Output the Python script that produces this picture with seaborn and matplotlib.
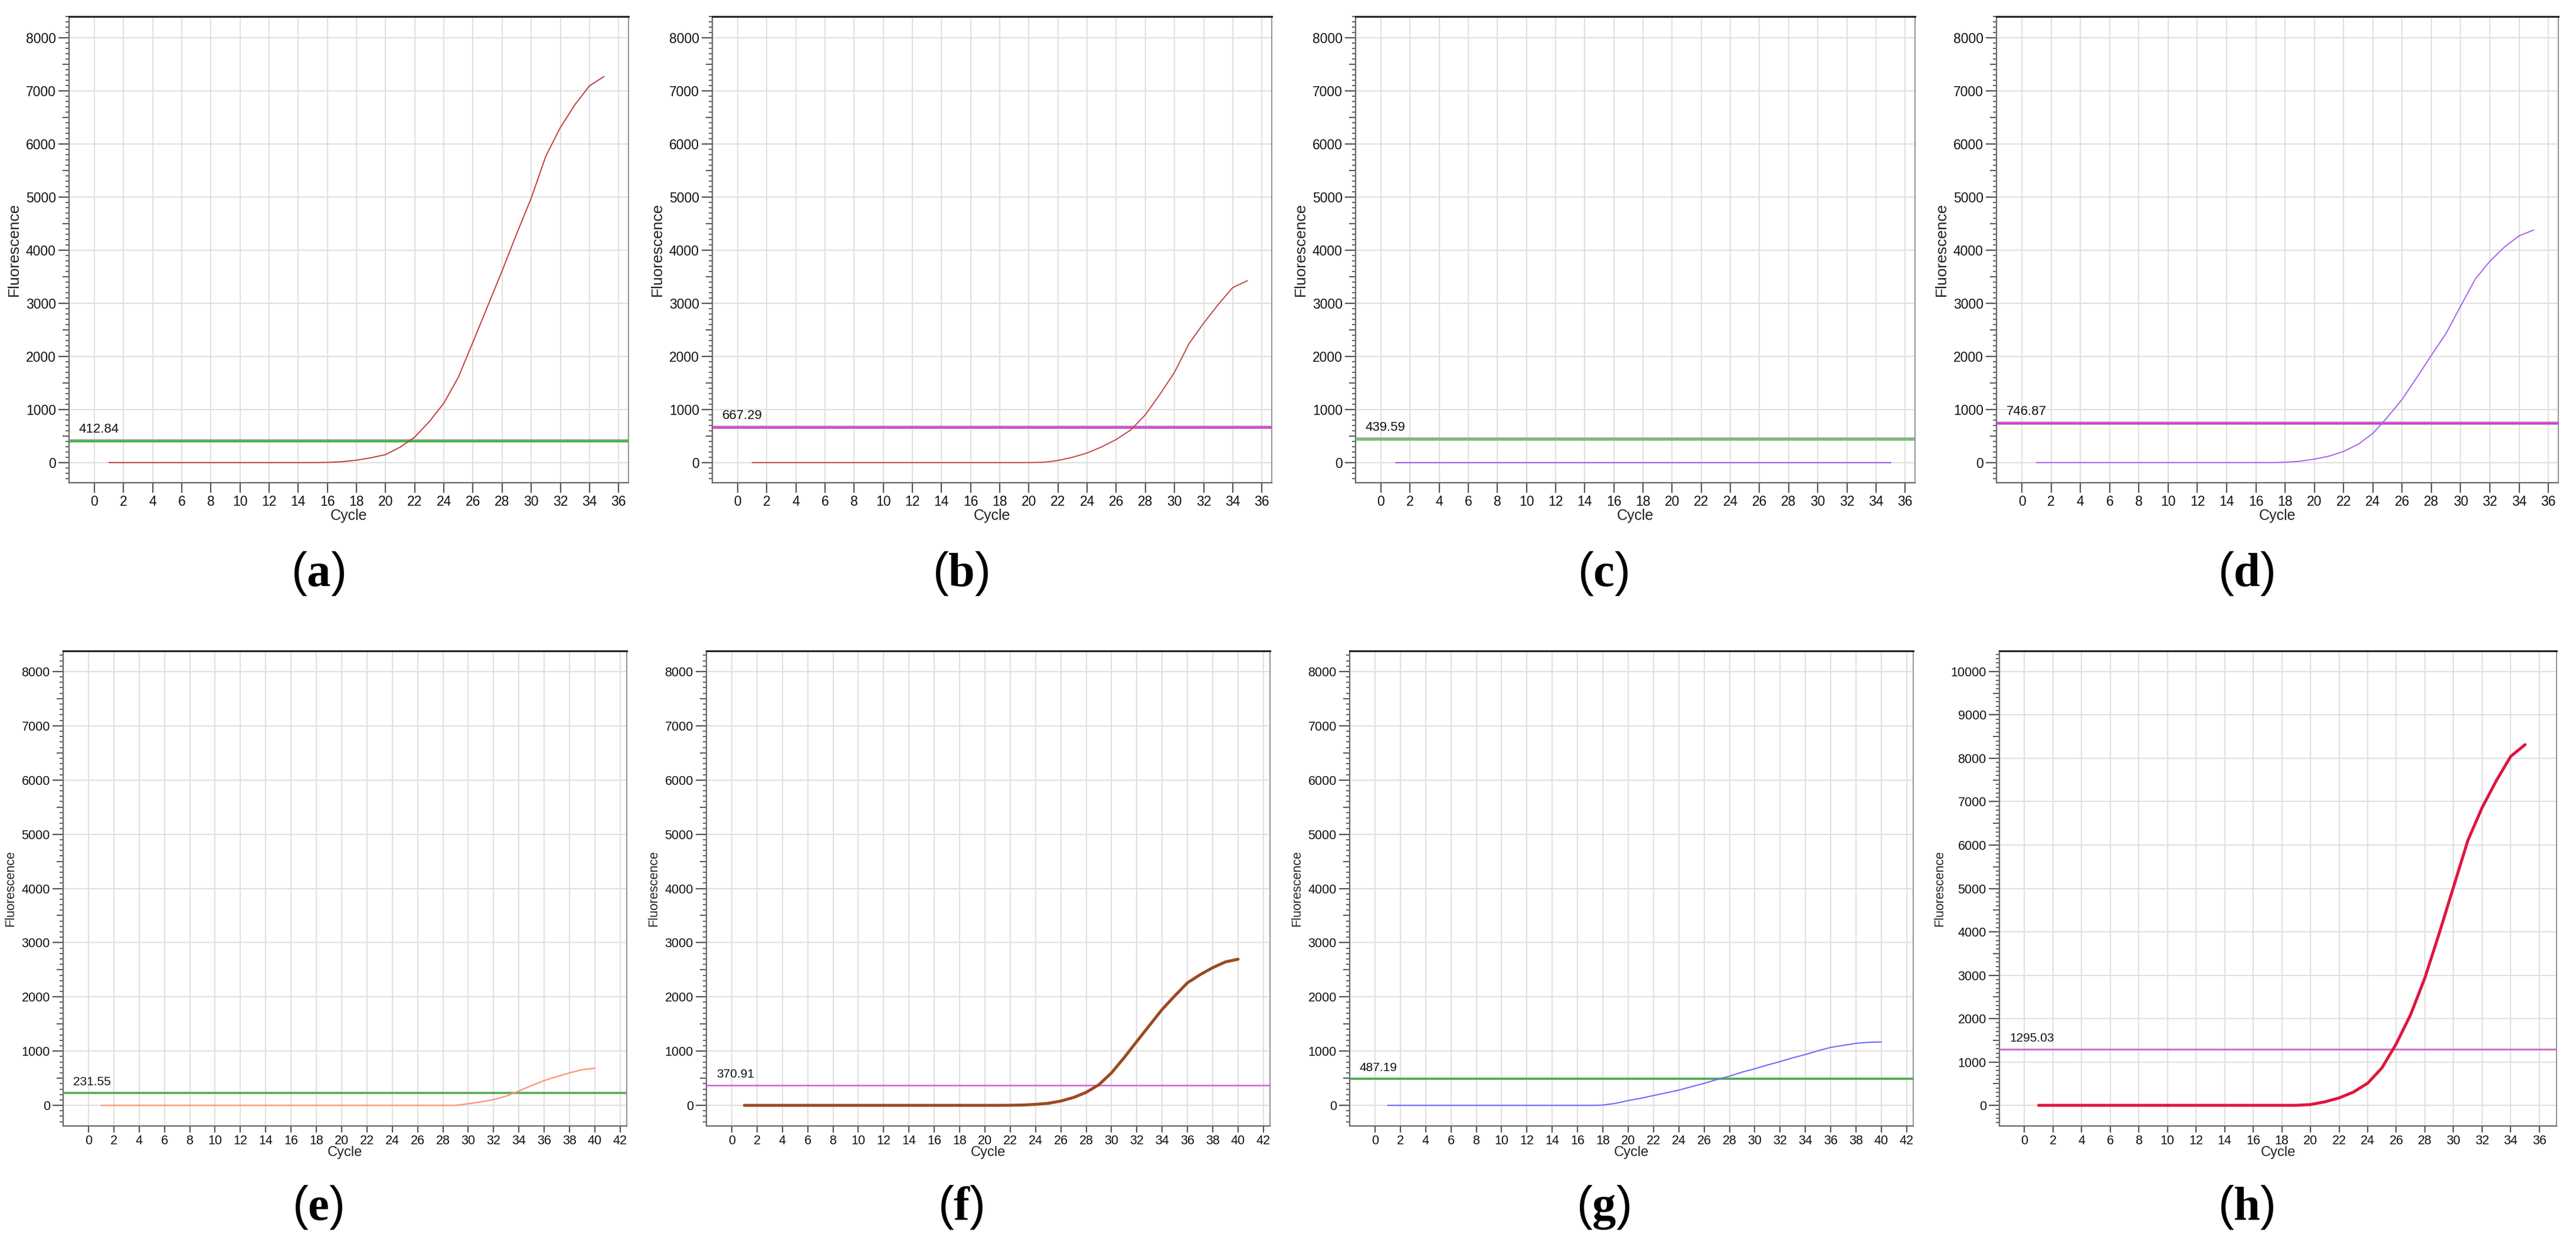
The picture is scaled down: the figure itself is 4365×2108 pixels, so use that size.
import numpy as np
import pandas as pd
import matplotlib
matplotlib.use("Agg")
import matplotlib.pyplot as plt
from matplotlib.ticker import MultipleLocator
import seaborn as sns

# ---------------- data ----------------
panel_ids = ["a", "b", "c", "d", "e", "f", "g", "h"]
thresholds = [412.84, 667.29, 439.59, 746.87, 231.55, 370.91, 487.19, 1295.03]
threshold_labels = ["412.84", "667.29", "439.59", "746.87", "231.55", "370.91", "487.19", "1295.03"]

cycles_35 = list(range(1, 36))
cycles_40 = list(range(1, 41))

a_vals = [0]*15 + [3, 15, 45, 90, 150, 290, 480, 770, 1120, 1610, 2270, 2940, 3610,
                   4310, 4980, 5770, 6310, 6740, 7095, 7270]
b_vals = [0]*20 + [5, 38, 100, 180, 295, 435, 615, 900, 1285, 1700, 2240, 2625, 2975,
                   3295, 3425]
c_vals = [0]*35
d_vals = [0]*17 + [5, 25, 64, 120, 210, 345, 550, 855, 1190, 1600, 2020, 2430, 2945,
                   3455, 3790, 4060, 4270, 4380]
e_vals = [0]*29 + [30, 64, 107, 170, 265, 365, 457, 530, 600, 657, 686]
f_vals = [0]*21 + [2, 6, 19, 38, 80, 145, 240, 380, 600, 880, 1180, 1475, 1770, 2020,
                   2260, 2410, 2540, 2645, 2695]
g_vals = [0]*17 + [5, 38, 88, 131, 181, 231, 281, 344, 406, 475, 538, 613, 675, 744,
                   807, 876, 938, 1007, 1069, 1107, 1144, 1163, 1169]
h_vals = [0]*19 + [18, 80, 170, 305, 510, 865, 1420, 2090, 2940, 3965, 5035, 6105,
                   6865, 7490, 8045, 8315]

series_x = [cycles_35, cycles_35, cycles_35, cycles_35, cycles_40, cycles_40, cycles_40, cycles_35]
series_y = [a_vals, b_vals, c_vals, d_vals, e_vals, f_vals, g_vals, h_vals]

x_tick_max = [36, 36, 36, 36, 42, 42, 42, 36]
y_tick_max = [8000, 8000, 8000, 8000, 8000, 8000, 8000, 10000]

# ---------------- style ----------------
curve_colors = ["#c23b3b", "#c24444", "#9a55e6", "#a460ee", "#ff9a7a", "#9a4a22", "#6a6aff", "#e0153f"]
curve_widths = [1.4, 1.4, 1.4, 1.4, 1.8, 3.6, 1.5, 3.6]
thr_colors = ["#3cb83c", "#e03ce0", "#6cc46c", "#e035e0", "#5aaa5a", "#d865d8", "#48aa48", "#c870c8"]
thr_widths = [2.4, 2.4, 2.4, 2.4, 2.6, 1.9, 2.6, 2.2]
thr_outline = [True, True, True, True, False, False, False, False]

W, H = 4365, 2108
DPI = 100

sns.set_style("white")
plt.rcParams["font.family"] = ["Liberation Sans", "DejaVu Sans"]
plt.rcParams["mathtext.fontset"] = "custom"
plt.rcParams["mathtext.rm"] = "Liberation Serif"
plt.rcParams["mathtext.bf"] = "Liberation Serif:bold"

fig = plt.figure(figsize=(W / DPI, H / DPI), dpi=DPI)
fig.patch.set_facecolor("white")

# axes boxes in pixels (left, right, top, bottom)
boxes = [
    (117, 1065, 28, 818), (1207, 2155, 28, 818), (2297, 3245, 28, 818), (3383, 4335, 28, 818),
    (107, 1062, 1103, 1908), (1197, 2152, 1103, 1908), (2287, 3242, 1103, 1908), (3388, 4332, 1103, 1908),
]
xlims = [(-1.74, 36.68)] * 4 + [(-2.0, 42.52)] * 3 + [(-1.74, 37.2)]
ylims = [(-380, 8400)] * 4 + [(-380, 8380)] * 3 + [(-476, 10476)]
caption_x = [538, 1628, 2716, 3806]
caption_y = [972, 2046]

for i, pid in enumerate(panel_ids):
    l, r, t, b = boxes[i]
    ax = fig.add_axes([l / W, 1 - b / H, (r - l) / W, (b - t) / H])
    top_row = i < 4
    df = pd.DataFrame({"Cycle": series_x[i], "Fluorescence": series_y[i]})

    ax.set_xlim(*xlims[i])
    ax.set_ylim(*ylims[i])
    ax.set_xticks(np.arange(0, x_tick_max[i] + 1, 2))
    ax.set_yticks(np.arange(0, y_tick_max[i] + 1, 1000))
    ax.yaxis.set_minor_locator(MultipleLocator(100))
    ax.grid(True, which="major", color="#e0e0e0", linewidth=1.5)
    ax.set_axisbelow(True)

    # medium ticks at the half-thousands
    sec = ax.secondary_yaxis("left")
    sec.set_yticks(np.arange(500, y_tick_max[i], 1000))
    sec.tick_params(axis="y", length=8, width=1.4, color="#555555", labelleft=False)
    sec.spines["left"].set_visible(False)
    sec.yaxis.set_minor_locator(plt.NullLocator())

    # threshold line
    if thr_outline[i]:
        ax.axhline(thresholds[i], color="#a8a8a8", linewidth=thr_widths[i] + 1.6, zorder=2)
    ax.axhline(thresholds[i], color=thr_colors[i], linewidth=thr_widths[i], zorder=3)
    ax.annotate(threshold_labels[i], xy=(0, thresholds[i]),
                xycoords=("axes fraction", "data"),
                xytext=(17, 9), textcoords="offset pixels",
                fontsize=16 if top_row else 15, color="#111111",
                ha="left", va="bottom")

    sns.lineplot(data=df, x="Cycle", y="Fluorescence", ax=ax, color=curve_colors[i],
                 linewidth=curve_widths[i], zorder=4)

    ax.set_xlabel("Cycle", fontsize=18 if top_row else 17, labelpad=0 if top_row else -2,
                  color="#222222")
    ax.set_ylabel("Fluorescence", fontsize=19 if top_row else 15.5, labelpad=6, color="#222222")

    tick_fs = 16.5 if top_row else 15.5
    ax.tick_params(axis="y", which="major", direction="out", length=13, width=1.6,
                   color="#555555", labelsize=tick_fs, pad=3, labelcolor="#111111", left=True)
    ax.tick_params(axis="y", which="minor", direction="out", length=4.5, width=1.3,
                   color="#555555", left=True)
    ax.tick_params(axis="x", which="major", direction="out", length=12 if top_row else 8,
                   width=1.6, color="#555555", labelsize=tick_fs, pad=3,
                   labelcolor="#111111", bottom=True)

    for side in ["left", "bottom"]:
        ax.spines[side].set_color("#666666")
        ax.spines[side].set_linewidth(1.6)
    ax.spines["top"].set_color("#222222")
    ax.spines["top"].set_linewidth(2.2)
    ax.spines["right"].set_color("#8a8a8a")
    ax.spines["right"].set_linewidth(1.3)
    for s in ax.spines.values():
        s.set_visible(True)

    cx = caption_x[i % 4]
    cy = caption_y[0 if top_row else 1]
    fig.text(cx / W, 1 - cy / H, r"($\mathbf{" + pid + r"}$)", fontsize=58,
             ha="center", va="center", color="black")

fig.savefig("out.png", dpi=DPI, facecolor="white")
